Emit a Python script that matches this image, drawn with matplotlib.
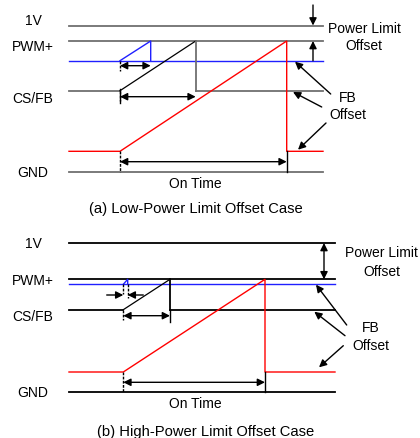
import matplotlib.pyplot as plt

plt.rcParams['font.family'] = ['Liberation Sans', 'DejaVu Sans']

# signal names on the left
labels = ['1V', 'PWM+', 'CS/FB', 'GND']

# (a) low-power case, levels in picture units (y grows downward)
a_levels = [26.5, 42, 91.7, 172.7]
a_label_y = [21, 47, 99, 173]
a_blue = 61.7
a_red = 152.3
a_start = 120
a_blue_end = 150.7
a_black_end = 195.7
a_red_end = 286.7
a_right = 323

# (b) high-power case
b_levels = [244, 280.3, 310.7, 393.3]
b_label_y = [244, 281, 317, 393.3]
b_blue = 285.3
b_red = 373
b_start = 123.3
b_blue_end = 127.7
b_black_end = 170
b_red_end = 265
b_right = 335

left = 69

fig = plt.figure(figsize=(4.2, 4.39), dpi=100)
ax = fig.add_axes([0, 0, 1, 1])
ax.set_xlim(0, 420)
ax.set_ylim(439, 0)
ax.axis('off')


def arrow(x0, y0, x1, y1, style='-|>'):
    ax.annotate('', xy=(x1, y1), xytext=(x0, y0),
                arrowprops=dict(arrowstyle=style, color='black', lw=1,
                                mutation_scale=11, shrinkA=0, shrinkB=0))


def panel(levels, label_y, blue, red, start, blue_end, black_end, red_end,
          right, grey):
    y1v, ypwm, ycs, ygnd = levels
    # rails
    ax.plot([left, right], [y1v, y1v], color=grey, lw=1.3)
    ax.plot([left, right], [ypwm, ypwm], color=grey, lw=1.3)
    ax.plot([left, right], [ygnd, ygnd], color=grey, lw=1.3)
    # blue (PWM+ with FB offset)
    ax.plot([left, right], [blue, blue], color='#2020ff', lw=1)
    ax.plot([start, blue_end, blue_end], [blue, ypwm, blue], color='#2020ff', lw=1)
    # CS/FB with ramp
    ax.plot([left, start], [ycs, ycs], color=grey, lw=1.3)
    ax.plot([start, black_end], [ycs, ypwm], color='black', lw=0.9)
    ax.plot([black_end, black_end], [ypwm, ycs], color=grey, lw=1.3)
    ax.plot([black_end, right], [ycs, ycs], color=grey, lw=1.3)
    # red ramp
    ax.plot([left, start, red_end, red_end, right],
            [red, red, ypwm, red, red], color='#ff0000', lw=1)
    # short dashed markers at start
    for y0, y1 in [(blue, blue + 10), (ycs, ycs + 10), (red, ygnd)]:
        ax.plot([start, start], [y0, y1], color='black', lw=1, ls=(0, (2, 1)))
    for txt, y in zip(labels, label_y):
        ax.text(33, y, txt, ha='center', va='center', fontsize=10)
    ax.text(195, ygnd + 11, 'On Time', ha='center', va='center', fontsize=10)
    arrow(start, ycs + 6, black_end, ycs + 6, '<|-|>')
    arrow(start, ygnd - 10, red_end, ygnd - 10, '<|-|>')
    ax.plot([red_end, red_end], [red, ygnd], color='black', lw=1)


# panel (a)
panel(a_levels, a_label_y, a_blue, a_red, a_start, a_blue_end, a_black_end,
      a_red_end, a_right, '#707070')
ax.plot([a_start, a_start], [a_levels[2] - 2, a_levels[2] + 12], color='black', lw=1)
arrow(a_start, a_blue + 5, a_blue_end, a_blue + 5, '<|-|>')
arrow(313, 6, 313, a_levels[0])
arrow(313, a_blue, 313, a_levels[1])
ax.text(364, 29, 'Power Limit', ha='center', va='center', fontsize=10)
ax.text(364, 46, 'Offset', ha='center', va='center', fontsize=10)
ax.text(348, 98, 'FB', ha='center', va='center', fontsize=10)
ax.text(348, 115, 'Offset', ha='center', va='center', fontsize=10)
arrow(330.7, 95, 295, 62.7)
arrow(321.7, 108, 293, 93)
arrow(326, 124, 298, 150.7)
ax.text(196, 209, '(a) Low-Power Limit Offset Case', ha='center', va='center',
        fontsize=10.6)

# panel (b)
panel(b_levels, b_label_y, b_blue, b_red, b_start, b_blue_end, b_black_end,
      b_red_end, b_right, 'black')
ax.plot([b_blue_end, b_blue_end], [b_blue, b_blue + 14], color='black', lw=1,
        ls=(0, (2, 1)))
ax.plot([b_black_end, b_black_end], [b_levels[2], b_levels[2] + 12],
        color='black', lw=1)
arrow(106.7, 296, b_start, 296)
arrow(143.3, 296, b_blue_end, 296)
arrow(324, b_levels[0], 324, b_levels[1], '<|-|>')
ax.text(381.7, 253.3, 'Power Limit', ha='center', va='center', fontsize=10)
ax.text(381.7, 271.7, 'Offset', ha='center', va='center', fontsize=10)
ax.text(371, 328.3, 'FB', ha='center', va='center', fontsize=10)
ax.text(371, 346, 'Offset', ha='center', va='center', fontsize=10)
arrow(346.7, 326, 316, 285.7)
arrow(345, 336.7, 314.3, 312.7)
arrow(343.3, 346.7, 319, 368.3)
ax.text(206, 431.7, '(b) High-Power Limit Offset Case', ha='center',
        va='center', fontsize=10.6)

fig.savefig('out.png', dpi=100)
